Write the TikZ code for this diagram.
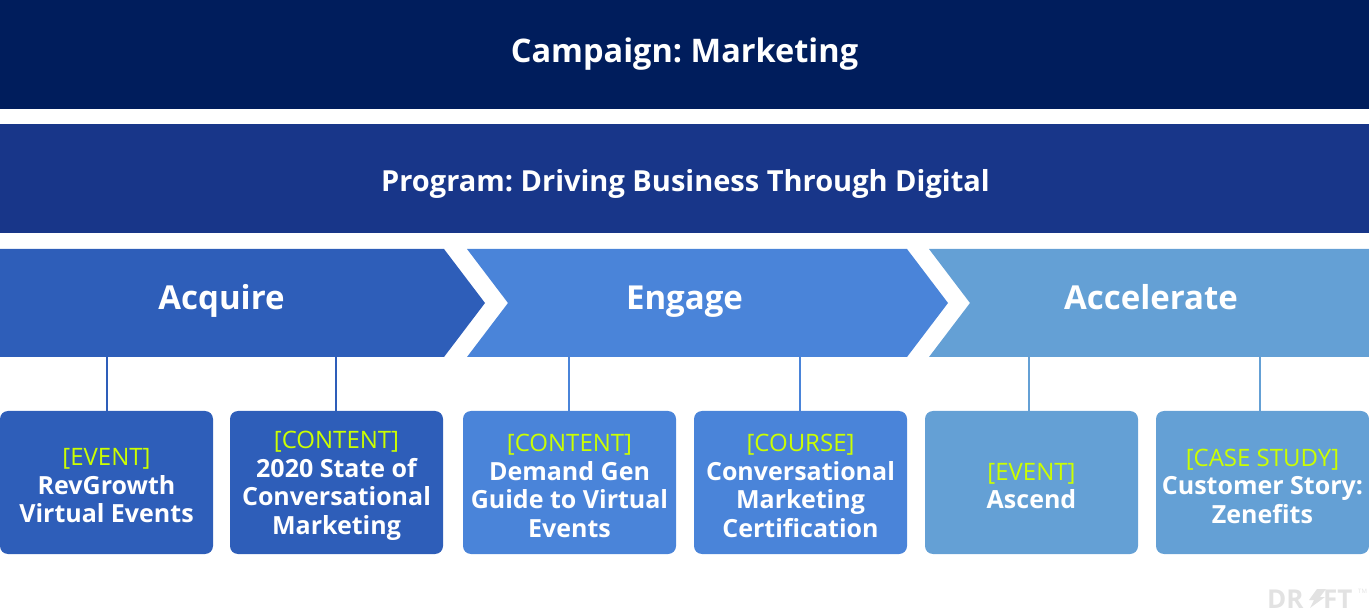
\documentclass[tikz,border=0pt]{standalone}
\usepackage{fontspec}
\setmainfont{Open Sans}
\frenchspacing
\definecolor{cnavy}{HTML}{001D5C}
\definecolor{cprog}{HTML}{183689}
\definecolor{cacq}{HTML}{2E5EB9}
\definecolor{ceng}{HTML}{4A84D9}
\definecolor{cacc}{HTML}{64A0D5}
\definecolor{clime}{HTML}{CCFF00}
\definecolor{clogo}{HTML}{E2E2E2}
\begin{document}
\begin{tikzpicture}[x=1pt,y=-1pt,
  bannertext/.style={text=white,font=\bfseries\fontsize{31}{31}\selectfont,inner sep=0pt,anchor=base},
  phasetext/.style={text=white,font=\bfseries\fontsize{33}{33}\selectfont,inner sep=0pt,anchor=base},
  itembox/.style={rounded corners=8pt,minimum width=213pt,minimum height=143pt,inner sep=0pt},
  itemtext/.style={text=white,align=center,inner sep=0pt,font=\bfseries\fontsize{25}{28.5}\selectfont},
  conn/.style={line width=2pt},
  logotext/.style={anchor=base west,inner sep=0pt,text=clogo,font=\bfseries\fontsize{26}{26}\selectfont},
]
\newcommand{\tag}[1]{{\mdseries\fontsize{24}{28.5}\selectfont\color{clime}[#1]}}
\useasboundingbox (0,0) rectangle (1369,612);
% banners
\fill[cnavy] (0,0) rectangle (1369,109);
\node[bannertext,font=\bfseries\fontsize{32.5}{32.5}\selectfont] (campaign) at (684.5,63) {Campaign: Marketing};
\fill[cprog] (0,124) rectangle (1369,233);
\node[bannertext,font=\bfseries\fontsize{29}{29}\selectfont] (program) at (685.5,192) {Program: Driving Business Through Digital};
% chevrons
\fill[cacq] (0,249) -- (444,249) -- (485,303) -- (444,357) -- (0,357) -- cycle;
\fill[ceng] (467,249) -- (907,249) -- (948,303) -- (907,357) -- (467,357) -- (508,303) -- cycle;
\fill[cacc] (929,249) -- (1369,249) -- (1369,357) -- (929,357) -- (970,303) -- cycle;
\node[phasetext] (acquire) at (221.5,310) {Acquire};
\node[phasetext] (engage) at (684.5,310) {Engage};
\node[phasetext] (accel) at (1151,310) {Accelerate};
% boxes
\node[itembox,fill=cacq] (b1) at (106.5,482.5) {};
\node[itembox,fill=cacq] (b2) at (336.5,482.5) {};
\node[itembox,fill=ceng] (b3) at (569.5,482.5) {};
\node[itembox,fill=ceng] (b4) at (800.5,482.5) {};
\node[itembox,fill=cacc] (b5) at (1031.5,482.5) {};
\node[itembox,fill=cacc] (b6) at (1262.5,482.5) {};
\node[itemtext] (l1) at ([yshift=-3.5pt]b1.center) {\tag{EVENT}\\RevGrowth\\Virtual Events};
\node[itemtext] (l2) at ([yshift=-3.5pt]b2.center) {\tag{CONTENT}\\2020 State of\\Conversational\\Marketing};
\node[itemtext] (l3) at ([yshift=-3.5pt]b3.center) {\tag{CONTENT}\\Demand Gen\\Guide to Virtual\\Events};
\node[itemtext] (l4) at ([yshift=-3.5pt]b4.center) {\tag{COURSE}\\Conversational\\Marketing\\Certification};
\node[itemtext] (l5) at ([yshift=-3.5pt]b5.center) {\tag{EVENT}\\Ascend};
\node[itemtext] (l6) at ([yshift=-3.5pt]b6.center) {\tag{CASE STUDY}\\Customer Story:\\Zenefits};
% connectors
\coordinate (t1) at (107,357);
\coordinate (t2) at (336,357);
\coordinate (t3) at (569,357);
\coordinate (t4) at (800,357);
\coordinate (t5) at (1029,357);
\coordinate (t6) at (1260,357);
\draw[conn,cacq] (t1) -- (t1 |- b1.north);
\draw[conn,cacq] (t2) -- (t2 |- b2.north);
\draw[conn,ceng] (t3) -- (t3 |- b3.north);
\draw[conn,ceng] (t4) -- (t4 |- b4.north);
\draw[conn,cacc] (t5) -- (t5 |- b5.north);
\draw[conn,cacc] (t6) -- (t6 |- b6.north);
% logo
\node[logotext] (logoDR) at (1267,608) {DR};
\fill[clogo] (1317,589) -- (1326,589) -- (1320,597) -- (1325,597) -- (1310,608) -- (1314,600) -- (1309,600) -- cycle;
\node[logotext] (logoFT) at (1323,608) {FT};
\node[anchor=north west,inner sep=0pt,text=clogo,font=\fontsize{6}{6}\selectfont] (logoTM) at (1358,589) {TM};
\end{tikzpicture}
\end{document}
